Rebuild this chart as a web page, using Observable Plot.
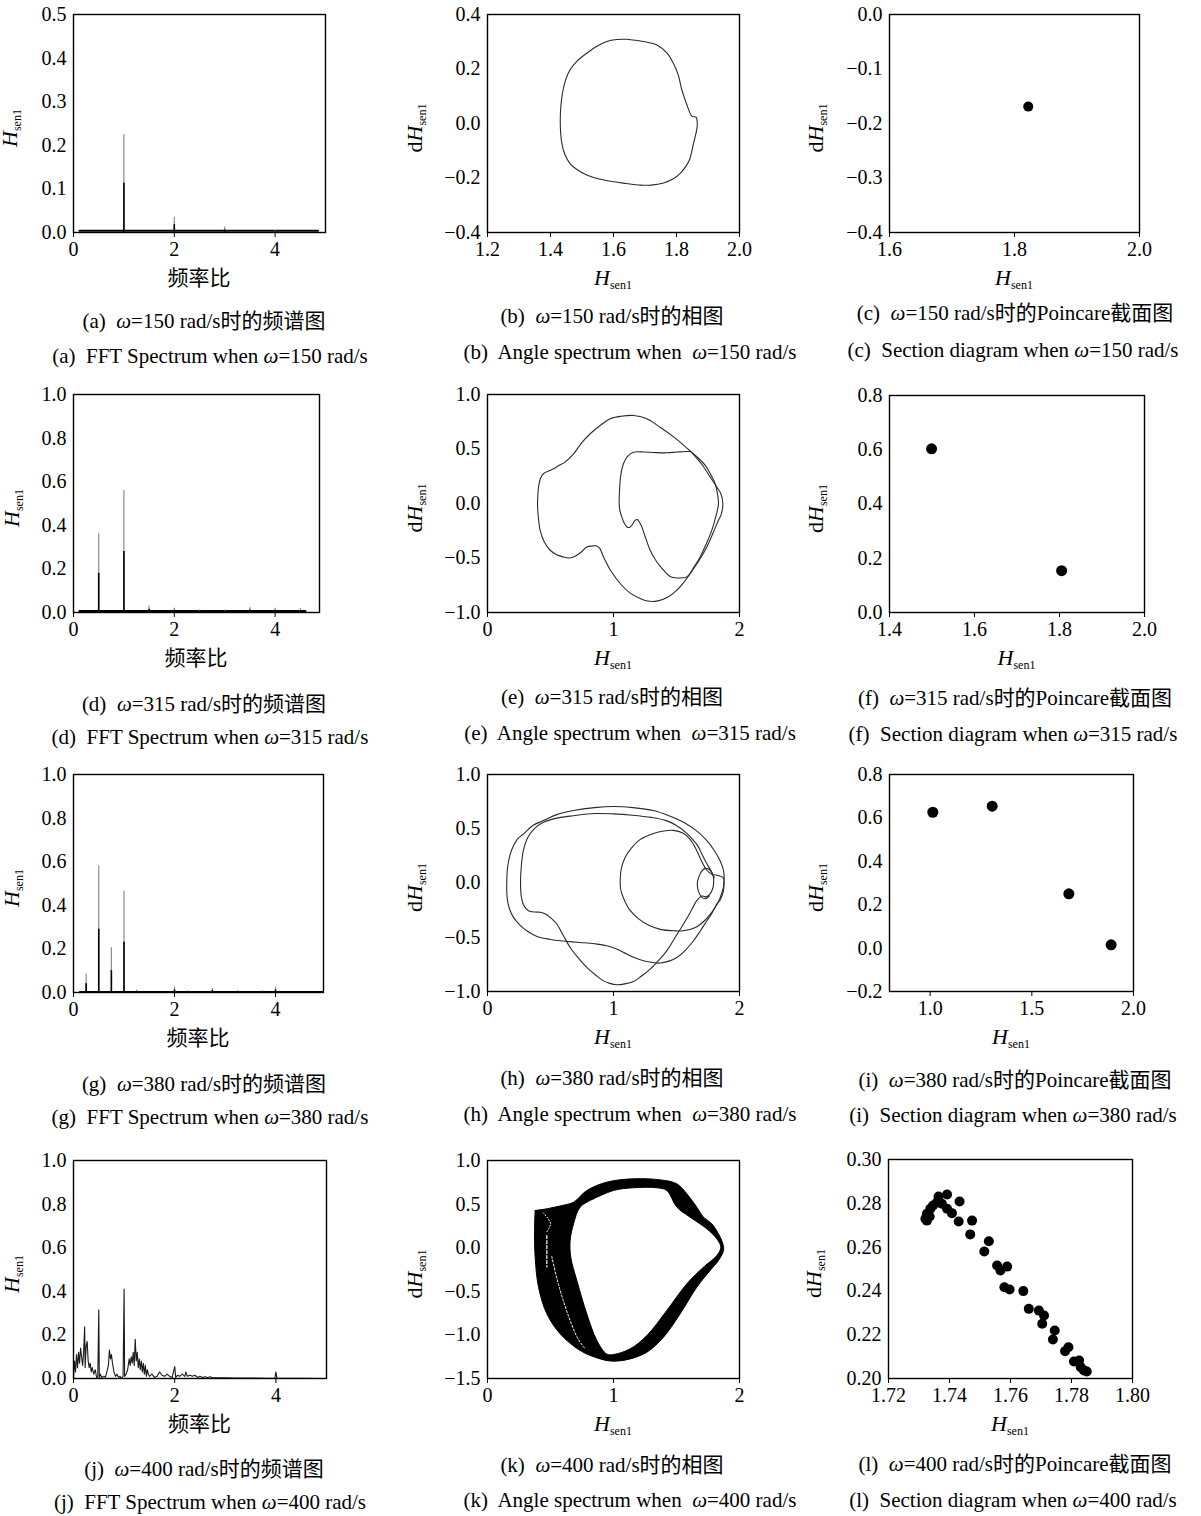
<!DOCTYPE html>
<html><head><meta charset="utf-8">
<script src="https://cdn.jsdelivr.net/npm/d3@7"></script>
<script src="https://cdn.jsdelivr.net/npm/@observablehq/plot@0.6"></script>
<style>
html,body{margin:0;padding:0;background:#fff;}
body{width:1201px;height:1516px;position:relative;overflow:hidden;font-family:"Liberation Serif","Noto Sans CJK SC",serif;color:#000;}
.cap{position:absolute;font-size:21px;line-height:22px;white-space:pre;transform:translateX(-50%);}
.cap i{font-style:italic;}
</style></head><body><script>
const FONT = '"Liberation Serif","Noto Sans CJK SC",serif';

// ---------- FFT spectra (frequency ratio, amplitude) ----------
const specA_f = [1, 2, 3, 4];
const specA_amp = [0.225, 0.035, 0.012, 0.004];
const specA_dark = [0.113, 0.018, 0.006, 0.002];
const floorA = [[0.12, 0.004], [4.85, 0.004]];

const specD_f = [0.5, 1.0, 1.5, 2.0, 2.5, 3.0, 3.5, 4.0, 4.5];
const specD_amp = [0.36, 0.56, 0.03, 0.02, 0.012, 0.012, 0.022, 0.02, 0.018];
const specD_dark = [0.18, 0.28, 0.015, 0.01, 0.006, 0.006, 0.011, 0.01, 0.009];
const floorD = [[0.12, 0.006], [4.6, 0.006]];

const specG_f = [0.25, 0.5, 0.75, 1.0, 1.25, 2.0, 2.25, 2.75, 3.25, 3.75, 4.0];
const specG_amp = [0.085, 0.58, 0.205, 0.465, 0.01, 0.025, 0.008, 0.018, 0.008, 0.008, 0.025];
const specG_dark = [0.04, 0.29, 0.10, 0.23, 0.005, 0.012, 0.004, 0.009, 0.004, 0.004, 0.012];
const floorG = [[0.12, 0.004], [4.95, 0.004]];

const specJ_f = [0.00,0.02,0.04,0.06,0.08,0.10,0.12,0.14,0.16,0.18,0.20,0.22,0.23,0.25,0.27,0.29,0.31,0.33,0.35,0.37,0.40,0.43,0.46,0.48,0.50,0.51,0.53,0.56,0.60,0.63,0.66,0.69,0.71,0.73,0.75,0.77,0.80,0.83,0.86,0.89,0.92,0.95,0.98,1.00,1.01,1.04,1.07,1.10,1.12,1.14,1.16,1.18,1.20,1.22,1.24,1.26,1.28,1.30,1.32,1.34,1.36,1.38,1.40,1.42,1.44,1.46,1.48,1.50,1.55,1.60,1.65,1.70,1.75,1.80,1.85,1.90,1.95,2.00,2.02,2.06,2.10,2.15,2.20,2.22,2.25,2.30,2.35,2.40,2.45,2.50,2.55,2.60,2.65,2.70,2.75,2.85,3.00,3.20,3.50,3.80,3.98,4.00,4.02,4.50,5.00];
const specJ_a = [0.0,0.08,0.03,0.11,0.05,0.12,0.07,0.14,0.10,0.06,0.12,0.237,0.05,0.15,0.17,0.08,0.05,0.07,0.03,0.05,0.02,0.04,0.0,0.01,0.315,0.0,0.02,0.005,0.01,0.005,0.03,0.06,0.13,0.09,0.11,0.07,0.03,0.01,0.02,0.005,0.01,0.0,0.01,0.41,0.01,0.02,0.04,0.09,0.06,0.10,0.07,0.12,0.06,0.18,0.08,0.12,0.05,0.09,0.04,0.08,0.03,0.07,0.02,0.06,0.01,0.04,0.02,0.01,0.02,0.005,0.01,0.03,0.015,0.01,0.02,0.01,0.005,0.055,0.005,0.015,0.01,0.02,0.01,0.03,0.01,0.015,0.01,0.015,0.005,0.01,0.005,0.008,0.005,0.008,0.003,0.003,0.003,0.002,0.002,0.001,0.001,0.03,0.001,0.001,0.0];

// ---------- phase portraits (Hsen1, dHsen1) ----------
const phaseB = [[1.642,0.309],[1.70,0.300],[1.738,0.288],[1.770,0.258],[1.790,0.221],[1.805,0.180],[1.817,0.123],[1.828,0.085],[1.835,0.062],[1.849,0.027],[1.862,0.023],[1.866,0.0],[1.865,-0.018],[1.860,-0.045],[1.854,-0.073],[1.848,-0.105],[1.841,-0.134],[1.828,-0.160],[1.812,-0.183],[1.790,-0.203],[1.759,-0.218],[1.720,-0.226],[1.685,-0.226],[1.640,-0.220],[1.600,-0.214],[1.555,-0.204],[1.515,-0.189],[1.485,-0.170],[1.462,-0.147],[1.445,-0.112],[1.436,-0.073],[1.432,-0.030],[1.431,0.013],[1.433,0.065],[1.438,0.111],[1.448,0.160],[1.462,0.197],[1.485,0.230],[1.515,0.258],[1.545,0.282],[1.579,0.301],[1.610,0.308],[1.642,0.309]];

const phaseE_outer = [[1.61,0.48],[1.70,0.36],[1.767,0.243],[1.82,0.15],[1.852,0.09],[1.868,0.0],[1.855,-0.10],[1.833,-0.154],[1.79,-0.27],[1.741,-0.398],[1.68,-0.52],[1.608,-0.643],[1.56,-0.72],[1.503,-0.795],[1.43,-0.86],[1.344,-0.896],[1.27,-0.895],[1.212,-0.872],[1.13,-0.82],[1.053,-0.734],[0.98,-0.62],[0.921,-0.49],[0.89,-0.41],[0.868,-0.389],[0.83,-0.39],[0.788,-0.398],[0.74,-0.45],[0.683,-0.49],[0.64,-0.50],[0.603,-0.49],[0.55,-0.47],[0.497,-0.429],[0.45,-0.35],[0.418,-0.246],[0.403,-0.12],[0.397,0.0],[0.400,0.08],[0.405,0.151],[0.42,0.23],[0.444,0.273],[0.49,0.30],[0.524,0.319],[0.57,0.35],[0.616,0.38],[0.683,0.456],[0.75,0.56],[0.815,0.64],[0.90,0.72],[0.974,0.777],[1.06,0.80],[1.159,0.808],[1.26,0.78],[1.370,0.70],[1.49,0.60],[1.61,0.48]];
const phaseE_inner = [[1.61,0.48],[1.55,0.475],[1.503,0.472],[1.42,0.465],[1.317,0.468],[1.24,0.472],[1.159,0.470],[1.11,0.43],[1.079,0.365],[1.062,0.29],[1.053,0.212],[1.047,0.10],[1.045,0.0],[1.052,-0.07],[1.066,-0.124],[1.085,-0.18],[1.106,-0.215],[1.125,-0.22],[1.145,-0.20],[1.172,-0.154],[1.190,-0.148],[1.207,-0.175],[1.225,-0.215],[1.25,-0.30],[1.291,-0.429],[1.34,-0.53],[1.397,-0.612],[1.45,-0.67],[1.503,-0.683],[1.582,-0.673],[1.64,-0.58],[1.688,-0.49],[1.74,-0.36],[1.780,-0.246],[1.81,-0.13],[1.833,-0.002],[1.825,0.09],[1.807,0.182],[1.77,0.27],[1.728,0.35],[1.67,0.42],[1.61,0.48]];

const phaseH_outer = [[0.153,0.0],[0.16,0.15],[0.19,0.3],[0.235,0.40],[0.286,0.452],[0.36,0.53],[0.444,0.575],[0.55,0.63],[0.683,0.668],[0.85,0.695],[1.0,0.705],[1.15,0.695],[1.317,0.668],[1.44,0.62],[1.556,0.56],[1.66,0.48],[1.741,0.391],[1.80,0.30],[1.846,0.206],[1.870,0.13],[1.878,0.068],[1.876,0.0],[1.873,-0.071],[1.85,-0.15],[1.820,-0.194],[1.78,-0.28],[1.741,-0.348],[1.69,-0.44],[1.635,-0.532],[1.57,-0.62],[1.503,-0.686],[1.44,-0.72],[1.370,-0.738],[1.30,-0.73],[1.238,-0.717],[1.17,-0.69],[1.106,-0.655],[1.03,-0.61],[0.947,-0.578],[0.85,-0.56],[0.735,-0.548],[0.65,-0.54],[0.577,-0.532],[0.50,-0.52],[0.418,-0.502],[0.36,-0.475],[0.312,-0.440],[0.26,-0.39],[0.206,-0.317],[0.175,-0.24],[0.159,-0.163],[0.153,-0.08],[0.153,0.0]];
const phaseH_second = [[1.80,0.05],[1.77,0.12],[1.73,0.20],[1.70,0.27],[1.67,0.34],[1.63,0.40],[1.58,0.46],[1.50,0.53],[1.42,0.575],[1.30,0.605],[1.15,0.625],[1.0,0.637],[0.85,0.64],[0.683,0.62],[0.56,0.60],[0.444,0.56],[0.38,0.51],[0.32,0.42],[0.285,0.30],[0.268,0.15],[0.262,0.0],[0.268,-0.12],[0.285,-0.20],[0.325,-0.255],[0.38,-0.268],[0.418,-0.27],[0.46,-0.285],[0.50,-0.32],[0.55,-0.378],[0.60,-0.48],[0.656,-0.594],[0.72,-0.69],[0.788,-0.778],[0.86,-0.85],[0.921,-0.902],[0.97,-0.925],[1.026,-0.938],[1.09,-0.93],[1.159,-0.908],[1.22,-0.86],[1.291,-0.794],[1.36,-0.71],[1.423,-0.625],[1.49,-0.50],[1.556,-0.378],[1.61,-0.27],[1.661,-0.163],[1.70,-0.12],[1.73,-0.13]];
const phaseH_small = [[1.73,-0.13],[1.76,-0.11],[1.785,-0.06],[1.795,0.0],[1.79,0.07],[1.765,0.12],[1.73,0.135],[1.70,0.11],[1.675,0.05],[1.665,-0.01],[1.675,-0.08],[1.70,-0.13],[1.73,-0.145],[1.76,-0.12]];
const phaseH_mid = [[1.053,0.0],[1.06,0.12],[1.09,0.23],[1.14,0.32],[1.21,0.40],[1.30,0.45],[1.40,0.48],[1.476,0.485],[1.55,0.46],[1.61,0.40],[1.66,0.30],[1.70,0.20],[1.74,0.12],[1.78,0.08],[1.83,0.07],[1.87,0.05],[1.878,0.0],[1.86,-0.09],[1.83,-0.18],[1.78,-0.27],[1.72,-0.35],[1.65,-0.41],[1.55,-0.44],[1.476,-0.44],[1.38,-0.43],[1.28,-0.39],[1.20,-0.33],[1.13,-0.25],[1.08,-0.14],[1.057,-0.06],[1.053,0.0]];

const phaseK_outer = [[0.378,0.427],[0.471,0.446],[0.58,0.48],[0.683,0.522],[0.788,0.656],[0.947,0.752],[1.159,0.790],[1.370,0.778],[1.503,0.732],[1.582,0.618],[1.661,0.465],[1.714,0.350],[1.780,0.274],[1.833,0.159],[1.868,0.044],[1.873,-0.032],[1.833,-0.147],[1.767,-0.261],[1.661,-0.453],[1.529,-0.758],[1.397,-1.026],[1.265,-1.198],[1.132,-1.275],[1.0,-1.301],[0.894,-1.275],[0.735,-1.179],[0.577,-0.988],[0.471,-0.758],[0.405,-0.453],[0.378,-0.109],[0.373,0.159],[0.378,0.427]];
const phaseK_inner = [[0.841,0.560],[1.0,0.656],[1.159,0.687],[1.344,0.687],[1.423,0.656],[1.503,0.465],[1.608,0.350],[1.741,0.216],[1.820,0.102],[1.852,0.006],[1.820,-0.09],[1.714,-0.223],[1.582,-0.414],[1.423,-0.720],[1.265,-1.007],[1.132,-1.160],[1.0,-1.225],[0.947,-1.220],[0.868,-1.064],[0.788,-0.758],[0.709,-0.376],[0.661,-0.109],[0.656,0.083],[0.683,0.274],[0.735,0.465],[0.841,0.560]];
const phaseK_speck1 = [[0.471,0.14],[0.471,-0.22]];
const phaseK_speck2 = [[0.51,-0.10],[0.55,-0.35],[0.60,-0.60],[0.66,-0.85],[0.72,-1.05],[0.77,-1.15]];
const phaseK_speck3 = [[0.44,0.40],[0.50,0.28],[0.47,0.18]];

// ---------- Poincare sections ----------
const poinC = [[1.822,-0.169]];
const poinF = [[1.499,0.6035],[1.805,0.154]];
const poinI = [[1.013,0.626],[1.305,0.654],[1.682,0.250],[1.890,0.015]];
const poinL = [[1.7321,0.2729],[1.7326,0.2752],[1.7337,0.2775],[1.7346,0.2790],[1.7359,0.2805],[1.7364,0.2831],[1.7392,0.2840],[1.7375,0.2798],[1.7392,0.2775],[1.7408,0.2755],[1.7430,0.2717],[1.7433,0.2808],[1.7474,0.2721],[1.7468,0.2658],[1.7529,0.2627],[1.7514,0.2580],[1.7556,0.2516],[1.7567,0.2493],[1.7589,0.2511],[1.7580,0.2417],[1.7597,0.2406],[1.7642,0.2399],[1.7660,0.2318],[1.7693,0.2310],[1.7710,0.2288],[1.7704,0.2250],[1.7745,0.2219],[1.7739,0.2178],[1.7779,0.2125],[1.7790,0.2143],[1.7808,0.2078],[1.7825,0.2082],[1.7830,0.2052],[1.7841,0.2037],[1.7850,0.2032],[1.7326,0.2721],[1.7335,0.2740]];

// ---------- captions ----------
const letters = ["a","b","c","d","e","f","g","h","i","j","k","l"];
const omegas = [150, 315, 380, 400];

// ---------- helpers ----------
const ML = 85, MR = 15, MT = 15, MB = 75;
const P = d => d[0], Q = d => d[1];

function spikes(f, amp, dark) {
  const data = f.map((x, i) => ({x, a: amp[i], d: dark[i]}));
  return [
    Plot.ruleX(data, {x: "x", y1: 0, y2: "a", stroke: "#8c8c8c", strokeWidth: 1.2}),
    Plot.ruleX(data, {x: "x", y1: 0, y2: "d", stroke: "#000", strokeWidth: 1.6})
  ];
}
function floorLine(fl, w) { return Plot.line(fl, {x: P, y: Q, stroke: "#000", strokeWidth: w}); }
function curve(d, opts = {}) { return Plot.line(d, {x: P, y: Q, curve: "catmull-rom", stroke: "#2a2a2a", strokeWidth: 1.1, ...opts}); }
function dots(d, r) { return Plot.dot(d, {x: P, y: Q, r, fill: "#000", stroke: null}); }

function panel(o) {
  const w = o.fx[1] - o.fx[0], h = o.fy[1] - o.fy[0];
  const svg = Plot.plot({
    width: w + ML + MR, height: h + MT + MB,
    marginLeft: ML, marginRight: MR, marginTop: MT, marginBottom: MB,
    style: {fontFamily: FONT, fontSize: "20px", background: "transparent", color: "#000", overflow: "visible"},
    x: {domain: o.xd, ticks: o.xt, tickFormat: d3.format(o.xf), label: null, tickSize: 5, tickPadding: 4},
    y: {domain: o.yd, ticks: o.yt, tickFormat: d3.format(o.yf), label: null, tickSize: 0, tickPadding: 7},
    marks: [...o.marks, Plot.frame({stroke: "#000", strokeWidth: 1.4})]
  });
  svg.style.position = "absolute";
  svg.style.left = (o.fx[0] - ML) + "px";
  svg.style.top = (o.fy[0] - MT) + "px";
  const s = d3.select(svg);
  // x label
  const xt = s.append("text").attr("x", ML + w / 2).attr("y", MT + h + 53)
    .attr("text-anchor", "middle").attr("font-size", 21).attr("fill", "#000");
  if (o.freq) xt.text("频率比");
  else { xt.append("tspan").attr("font-style", "italic").attr("font-size", 22).text("H"); xt.append("tspan").attr("font-size", 12).attr("dy", 4).text("sen1"); }
  // y label
  const yt = s.append("text").attr("transform", `translate(${ML + o.ylx},${MT + h / 2 + 5}) rotate(-90)`)
    .attr("text-anchor", "middle").attr("font-size", 22).attr("fill", "#000");
  if (o.dh) yt.append("tspan").text("d");
  yt.append("tspan").attr("font-style", "italic").text("H");
  yt.append("tspan").attr("font-size", 12).attr("dy", 4).text("sen1");
  document.body.appendChild(svg);
}

// ---------- panels ----------
const fftY = [0, 0.2, 0.4, 0.6, 0.8, 1.0];
panel({fx: [73, 325], fy: [14, 232], xd: [0, 5], yd: [0, 0.5], xt: [0, 2, 4], yt: [0, 0.1, 0.2, 0.3, 0.4, 0.5], xf: "d", yf: ".1f", freq: true, ylx: -56,
  marks: [floorLine(floorA, 2.2), ...spikes(specA_f, specA_amp, specA_dark)]});
panel({fx: [487, 739], fy: [14, 232], xd: [1.2, 2.0], yd: [-0.4, 0.4], xt: [1.2, 1.4, 1.6, 1.8, 2.0], yt: [-0.4, -0.2, 0, 0.2, 0.4], xf: ".1f", yf: ".1f", dh: true, ylx: -65,
  marks: [curve(phaseB)]});
panel({fx: [889, 1139], fy: [14, 232], xd: [1.6, 2.0], yd: [-0.4, 0], xt: [1.6, 1.8, 2.0], yt: [-0.4, -0.3, -0.2, -0.1, 0], xf: ".1f", yf: ".1f", dh: true, ylx: -66,
  marks: [dots(poinC, 5)]});

panel({fx: [73, 319], fy: [394, 612], xd: [0, 4.88], yd: [0, 1], xt: [0, 2, 4], yt: fftY, xf: "d", yf: ".1f", freq: true, ylx: -54,
  marks: [floorLine(floorD, 2.2), ...spikes(specD_f, specD_amp, specD_dark)]});
panel({fx: [487, 739], fy: [394, 612], xd: [0, 2], yd: [-1, 1], xt: [0, 1, 2], yt: [-1, -0.5, 0, 0.5, 1], xf: "d", yf: ".1f", dh: true, ylx: -65,
  marks: [curve(phaseE_outer), curve(phaseE_inner)]});
panel({fx: [889, 1144], fy: [395, 612], xd: [1.4, 2.0], yd: [0, 0.8], xt: [1.4, 1.6, 1.8, 2.0], yt: [0, 0.2, 0.4, 0.6, 0.8], xf: ".1f", yf: ".1f", dh: true, ylx: -66,
  marks: [dots(poinF, 5.5)]});

panel({fx: [73, 323], fy: [774, 992], xd: [0, 4.95], yd: [0, 1], xt: [0, 2, 4], yt: fftY, xf: "d", yf: ".1f", freq: true, ylx: -54,
  marks: [floorLine(floorG, 1.2), ...spikes(specG_f, specG_amp, specG_dark)]});
panel({fx: [487, 739], fy: [774, 991], xd: [0, 2], yd: [-1, 1], xt: [0, 1, 2], yt: [-1, -0.5, 0, 0.5, 1], xf: "d", yf: ".1f", dh: true, ylx: -65,
  marks: [curve(phaseH_outer), curve(phaseH_second), curve(phaseH_small), curve(phaseH_mid)]});
panel({fx: [889, 1133], fy: [774, 991], xd: [0.8, 2.0], yd: [-0.2, 0.8], xt: [1.0, 1.5, 2.0], yt: [-0.2, 0, 0.2, 0.4, 0.6, 0.8], xf: ".1f", yf: ".1f", dh: true, ylx: -66,
  marks: [dots(poinI, 5.5)]});

panel({fx: [73, 326], fy: [1160, 1378], xd: [0, 5], yd: [0, 1], xt: [0, 2, 4], yt: fftY, xf: "d", yf: ".1f", freq: true, ylx: -54,
  marks: [Plot.line(specJ_f.map((f, i) => [f, specJ_a[i]]), {x: P, y: Q, stroke: "#1a1a1a", strokeWidth: 1.1})]});
panel({fx: [487, 739], fy: [1160, 1378], xd: [0, 2], yd: [-1.5, 1], xt: [0, 1, 2], yt: [-1.5, -1, -0.5, 0, 0.5, 1], xf: "d", yf: ".1f", dh: true, ylx: -65,
  marks: [
    Plot.line(phaseK_outer, {x: P, y: Q, curve: "catmull-rom", fill: "#000", stroke: "#000", strokeWidth: 1}),
    Plot.line(phaseK_inner, {x: P, y: Q, curve: "catmull-rom", fill: "#fff", stroke: "#000", strokeWidth: 1}),
    Plot.line(phaseK_speck1, {x: P, y: Q, stroke: "#fff", strokeWidth: 1.2, strokeDasharray: "3,2"}),
    Plot.line(phaseK_speck2, {x: P, y: Q, curve: "catmull-rom", stroke: "#fff", strokeWidth: 1, strokeDasharray: "2,2"}),
    Plot.line(phaseK_speck3, {x: P, y: Q, curve: "catmull-rom", stroke: "#fff", strokeWidth: 1, strokeDasharray: "1,2"})
  ]});
panel({fx: [888, 1132], fy: [1159, 1378], xd: [1.72, 1.80], yd: [0.20, 0.30], xt: [1.72, 1.74, 1.76, 1.78, 1.80], yt: [0.20, 0.22, 0.24, 0.26, 0.28, 0.30], xf: ".2f", yf: ".2f", dh: true, ylx: -67,
  marks: [dots(poinL, 5)]});

// ---------- captions ----------
const capCx = [[204, 210], [612, 630], [1015, 1013]];
const capCy = [
  [[321, 356], [316, 352], [313, 350]],
  [[704, 737], [697, 733], [698, 734]],
  [[1084, 1117], [1078, 1114], [1080, 1115]],
  [[1469, 1502], [1465, 1500], [1464, 1500]]
];
const zhTail = ["时的频谱图", "时的相图", "时的Poincare截面图"];
const enHead = ["FFT Spectrum when ", "Angle spectrum when  ", "Section diagram when "];
for (let r = 0; r < 4; r++) {
  for (let c = 0; c < 3; c++) {
    const L = letters[r * 3 + c], om = omegas[r];
    const zh = `(${L})  <i>ω</i>=${om} rad/s${zhTail[c]}`;
    const en = `(${L})  ${enHead[c]}<i>ω</i>=${om} rad/s`;
    [zh, en].forEach((html, k) => {
      const div = document.createElement("div");
      div.className = "cap";
      div.innerHTML = html;
      div.style.left = capCx[c][k] + "px";
      div.style.top = (capCy[r][c][k] - 11) + "px";
      document.body.appendChild(div);
    });
  }
}
</script></body></html>
